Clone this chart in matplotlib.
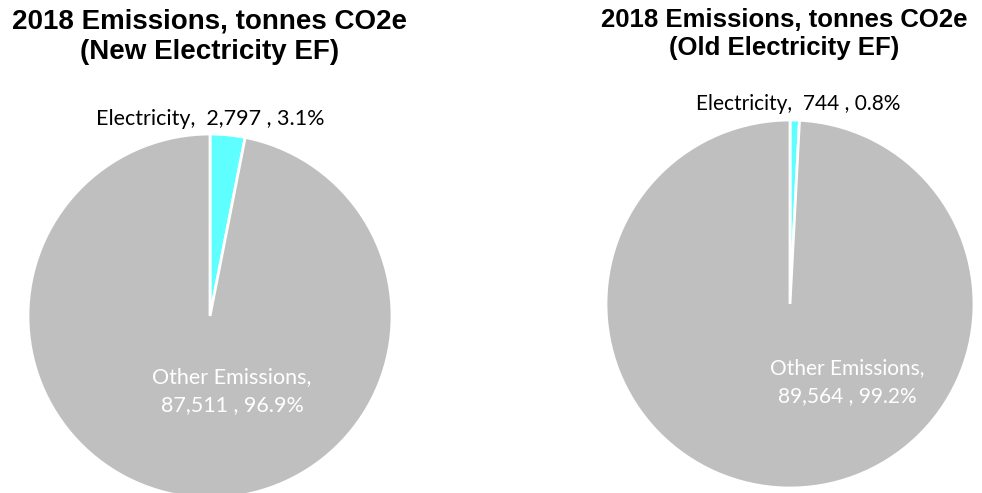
import matplotlib
matplotlib.use("Agg")
from matplotlib import pyplot as plt

# data
categories = ["Electricity", "Other Emissions"]
new_ef = [2797, 87511]
old_ef = [744, 89564]
titles = ["2018 Emissions, tonnes CO2e\n(New Electricity EF)",
          "2018 Emissions, tonnes CO2e\n(Old Electricity EF)"]

colors = ["#5FFFFF", "#BFBFBF"]
W, H = 982, 493

fig = plt.figure(figsize=(W / 100, H / 100), dpi=100)


def pie_axes(cx, cy, r):
    return fig.add_axes([(cx - r) / W, (H - cy - r) / H, 2 * r / W, 2 * r / H])


def pct(vals):
    total = sum(vals)
    return [v / total * 100 for v in vals]


def draw(ax, vals):
    ax.pie(vals, colors=colors, startangle=90, counterclock=False,
           wedgeprops=dict(edgecolor="white", linewidth=2))
    ax.set_xlim(-1, 1)
    ax.set_ylim(-1, 1)
    ax.axis("off")


fam = ["Lato", "DejaVu Sans"]

# left pie
ax1 = pie_axes(210, 316, 182)
draw(ax1, new_ef)
p = pct(new_ef)
fig.text(210 / W, 1 - 119 / H, f"{categories[0]},  {new_ef[0]:,} , {p[0]:.1f}%",
         ha="center", va="center", color="black", family=fam, fontsize=15.5)
fig.text(232 / W, 1 - 391 / H, f"{categories[1]},\n{new_ef[1]:,} , {p[1]:.1f}%",
         ha="center", va="center", color="white", linespacing=1.5,
         family=fam, fontsize=15.5)
fig.text(210 / W, 1 - 37 / H, titles[0], ha="center", va="center",
         family="Liberation Sans", fontweight="bold", fontsize=20, linespacing=1.22)

# right pie
ax2 = pie_axes(790, 304, 184)
draw(ax2, old_ef)
p = pct(old_ef)
fig.text(798 / W, 1 - 104 / H, f"{categories[0]},  {old_ef[0]:,} , {p[0]:.1f}%",
         ha="center", va="center", color="black", family=fam, fontsize=15)
fig.text(847 / W, 1 - 382 / H, f"{categories[1]},\n{old_ef[1]:,} , {p[1]:.1f}%",
         ha="center", va="center", color="white", linespacing=1.5,
         family=fam, fontsize=15)
fig.text(784 / W, 1 - 34 / H, titles[1], ha="center", va="center",
         family="Liberation Sans", fontweight="bold", fontsize=18.5, linespacing=1.18)

fig.savefig("out.png", dpi=100)
